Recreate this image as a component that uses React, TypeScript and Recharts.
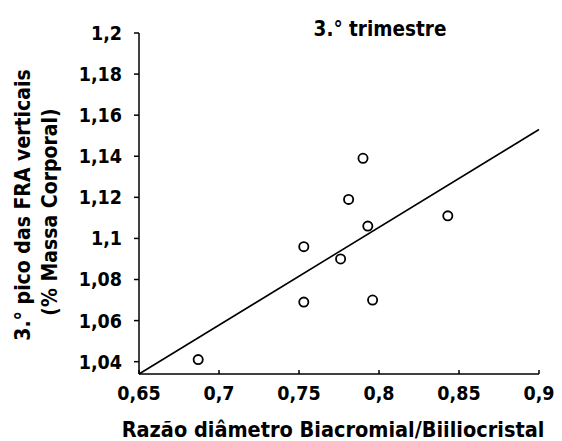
import { ScatterChart, Scatter, XAxis, YAxis } from 'recharts';

const ratio = [0.687, 0.753, 0.753, 0.776, 0.781, 0.79, 0.793, 0.796, 0.843];
const peak = [1.041, 1.096, 1.069, 1.09, 1.119, 1.139, 1.106, 1.07, 1.111];
const trendX = [0.65, 0.9];
const trendY = [1.034, 1.153];
const xTicks = [0.65, 0.7, 0.75, 0.8, 0.85, 0.9];
const yTicks = [1.04, 1.06, 1.08, 1.1, 1.12, 1.14, 1.16, 1.18, 1.2];

const points = ratio.map((x, i) => ({ x, y: peak[i] }));
const trend = trendX.map((x, i) => ({ x, y: trendY[i] }));

const FONT = '"DejaVu Sans Condensed", "DejaVu Sans", sans-serif';
const fmt = (v: number) => String(v).replace('.', ',');

const Ring = (props: any) => (
  <circle cx={props.cx} cy={props.cy} r={4.6} fill="#fff" stroke="#000" strokeWidth={1.8} />
);

const YTitle = () => (
  <g fontFamily={FONT} fontWeight="bold" fontSize={21} fill="#000">
    <text transform="translate(30,205) rotate(-90)" textAnchor="middle">3.° pico das FRA verticais</text>
    <text transform="translate(57,212) rotate(-90)" textAnchor="middle">(% Massa Corporal)</text>
  </g>
);

const XTitle = () => (
  <text x={333} y={437} textAnchor="middle" fontFamily={FONT} fontWeight="bold" fontSize={21.5} fill="#000">
    Razão diâmetro Biacromial/Biiliocristal
  </text>
);

const tickStyle = { fontFamily: FONT, fontWeight: 'bold', fontSize: 19.5, fill: '#000' };

export default function App() {
  return (
    <div style={{ position: 'absolute', left: 0, top: 0, width: 562, height: 441, background: '#fff' }}>
      <div
        style={{
          position: 'absolute',
          left: 380,
          top: 20,
          transform: 'translateX(-50%)',
          fontFamily: FONT,
          fontWeight: 'bold',
          fontSize: 20.5,
          lineHeight: '19px',
          whiteSpace: 'nowrap',
        }}
      >
        3.° trimestre
      </div>
      <ScatterChart width={562} height={441} margin={{ top: 33, right: 23, bottom: 17, left: 79 }}>
        <XAxis
          type="number"
          dataKey="x"
          domain={[0.65, 0.9]}
          ticks={xTicks}
          interval={0}
          height={50}
          tickFormatter={fmt}
          tick={tickStyle}
          tickSize={-4}
          tickMargin={16}
          axisLine={{ stroke: '#000', strokeWidth: 1.5 }}
          tickLine={{ stroke: '#000', strokeWidth: 1.5 }}
          label={<XTitle />}
        />
        <YAxis
          type="number"
          dataKey="y"
          domain={[1.034, 1.2]}
          ticks={yTicks}
          interval={0}
          width={60}
          tickFormatter={fmt}
          tick={tickStyle}
          tickSize={5}
          tickMargin={12}
          axisLine={{ stroke: '#000', strokeWidth: 1.5 }}
          tickLine={{ stroke: '#000', strokeWidth: 1.5 }}
          label={<YTitle />}
        />
        <Scatter
          data={trend}
          line={{ stroke: '#000', strokeWidth: 1.6 }}
          shape={() => <g />}
          isAnimationActive={false}
        />
        <Scatter data={points} shape={Ring} isAnimationActive={false} />
      </ScatterChart>
    </div>
  );
}
